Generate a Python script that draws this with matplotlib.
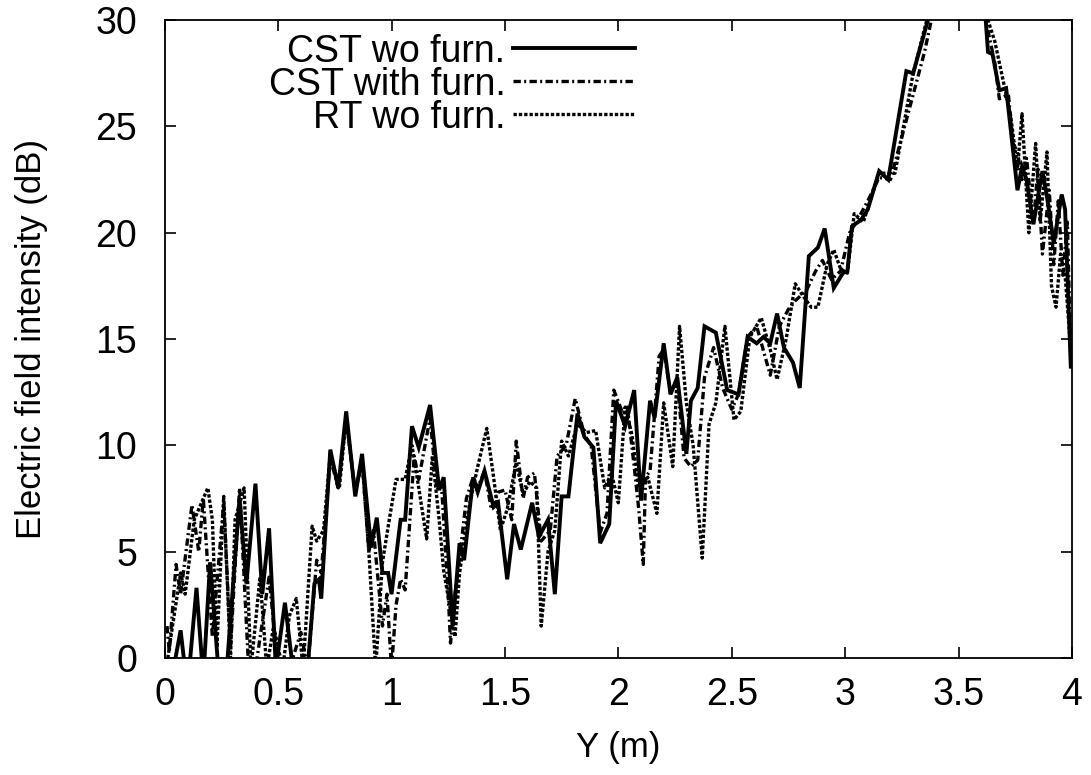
import matplotlib

matplotlib.use("Agg")
import matplotlib.pyplot as plt
from matplotlib.ticker import FuncFormatter

plt.rcParams["font.family"] = ["Liberation Sans", "DejaVu Sans"]

# CST without furniture (solid)
cst_wo_x = [0.03, 0.07, 0.10, 0.14, 0.17, 0.20, 0.24, 0.27, 0.33, 0.36, 0.40, 0.43,
            0.46, 0.49, 0.53, 0.565, 0.63, 0.66, 0.68, 0.69, 0.73, 0.765, 0.80, 0.84,
            0.87, 0.91, 0.935, 0.96, 0.985, 1.00, 1.04, 1.06, 1.09, 1.12, 1.17, 1.21,
            1.23, 1.27, 1.30, 1.32, 1.36, 1.38, 1.41, 1.45, 1.47, 1.51, 1.54, 1.57,
            1.62, 1.65, 1.69, 1.72, 1.75, 1.78, 1.82, 1.85, 1.89, 1.92, 1.96, 1.99,
            2.03, 2.07, 2.10, 2.14, 2.16, 2.20, 2.23, 2.26, 2.30, 2.32, 2.35, 2.38,
            2.43, 2.48, 2.53, 2.57, 2.61, 2.64, 2.67, 2.70, 2.73, 2.77, 2.80, 2.84,
            2.88, 2.91, 2.95, 2.99, 3.01, 3.03, 3.07, 3.10, 3.15, 3.19, 3.27, 3.30,
            3.365, 3.45, 3.55, 3.62, 3.63, 3.65, 3.68, 3.71, 3.76, 3.78, 3.80, 3.83,
            3.87, 3.89, 3.92, 3.955, 3.97, 3.995]
cst_wo_y = [-1.0, 1.3, -1.5, 3.3, -1.0, 4.5, -1.0, -1.0, 7.5, 3.5, 8.2, 3.0,
            6.1, -0.5, 2.6, -0.5, -0.5, 3.5, 3.7, 2.8, 9.8, 8.0, 11.6, 7.6,
            9.6, 5.2, 6.6, 4.0, 4.0, 3.0, 6.5, 6.5, 10.9, 9.9, 11.9, 7.9,
            8.5, 1.5, 5.4, 4.6, 8.5, 7.8, 8.8, 7.1, 7.3, 3.7, 6.3, 5.1,
            7.3, 5.7, 6.5, 3.0, 7.6, 7.6, 11.5, 10.4, 9.9, 5.4, 6.3, 12.1,
            10.9, 12.6, 7.4, 12.1, 11.3, 14.8, 12.4, 13.2, 9.6, 12.1, 12.7, 15.6,
            15.3, 12.6, 12.4, 15.1, 14.8, 15.1, 14.8, 16.2, 14.6, 13.9, 12.7, 18.9,
            19.3, 20.2, 17.4, 18.1, 18.2, 20.3, 20.6, 21.1, 22.9, 22.5, 27.6, 27.5,
            30.0, 33.0, 33.0, 30.0, 28.5, 28.4, 26.7, 26.8, 22.0, 23.1, 22.5, 20.4,
            22.9, 21.7, 19.5, 21.8, 21.1, 13.7]

# CST with furniture (dash-dot)
cst_with_x = [0.01, 0.02, 0.05, 0.07, 0.12, 0.15, 0.17, 0.21, 0.26, 0.29, 0.33, 0.37,
              0.40, 0.46, 0.50, 0.55, 0.60, 0.63, 0.67, 0.69, 0.73, 0.765, 0.80, 0.84,
              0.87, 0.90, 0.92, 0.96, 0.98, 1.00, 1.02, 1.04, 1.06, 1.10, 1.12, 1.17,
              1.20, 1.22, 1.25, 1.26, 1.28, 1.30, 1.33, 1.36, 1.38, 1.41, 1.44, 1.47,
              1.50, 1.53, 1.55, 1.58, 1.60, 1.63, 1.66, 1.70, 1.73, 1.77, 1.81, 1.85,
              1.88, 1.92, 1.95, 1.98, 2.02, 2.04, 2.07, 2.09, 2.11, 2.12, 2.14, 2.18,
              2.20, 2.23, 2.26, 2.29, 2.32, 2.35, 2.38, 2.42, 2.46, 2.50, 2.53, 2.57,
              2.61, 2.67, 2.71, 2.75, 2.78, 2.83, 2.87, 2.90, 2.94, 2.98, 3.02, 3.06,
              3.10, 3.15, 3.20, 3.30, 3.35, 3.38, 3.45, 3.55, 3.62, 3.66, 3.68, 3.72,
              3.74, 3.76, 3.78, 3.80, 3.83, 3.85, 3.87, 3.90, 3.92, 3.94, 3.96, 3.98,
              3.995]
cst_with_y = [1.5, 0.3, 4.4, 3.0, 7.2, 5.0, 7.5, 1.0, 7.3, 0.5, 8.0, -0.5,
              -0.5, 3.8, -0.5, -0.5, 1.2, -0.5, 4.6, 4.0, 9.4, 8.0, 11.2, 7.8,
              9.3, 5.0, 6.0, 1.5, 3.0, -0.5, 2.5, 3.7, 3.2, 9.5, 8.4, 11.3,
              7.9, 8.2, 3.0, 0.7, 3.0, 4.7, 7.5, 8.5, 8.0, 8.8, 7.0, 7.8,
              7.9, 6.5, 10.2, 7.5, 8.5, 8.7, 5.5, 6.0, 9.5, 10.0, 12.2, 10.5,
              10.0, 5.9, 6.8, 12.6, 11.5, 11.8, 9.0, 7.0, 4.4, 8.5, 8.8, 14.2,
              14.5, 12.5, 13.0, 9.4, 9.0, 9.3, 13.2, 14.6, 12.7, 11.7, 12.4, 15.1,
              15.6, 13.3, 15.6, 16.4, 16.8, 17.3, 18.2, 18.7, 17.8, 18.2, 20.0, 20.7,
              21.5, 22.6, 22.5, 26.5, 28.5, 30.0, 33.0, 33.0, 30.0, 28.0, 26.3, 26.5,
              24.2, 23.8, 22.5, 23.5, 20.4, 23.0, 19.0, 22.0, 18.5, 21.5, 18.0, 20.5,
              14.0]

# Ray tracing without furniture (dotted)
rt_wo_x = [0.00, 0.03, 0.07, 0.09, 0.13, 0.19, 0.21, 0.23, 0.26, 0.29, 0.31, 0.35,
           0.38, 0.42, 0.45, 0.48, 0.52, 0.55, 0.58, 0.61, 0.65, 0.67, 0.70, 0.73,
           0.77, 0.80, 0.84, 0.87, 0.90, 0.93, 0.96, 0.99, 1.02, 1.06, 1.09, 1.12,
           1.155, 1.18, 1.21, 1.23, 1.28, 1.30, 1.34, 1.38, 1.42, 1.45, 1.48, 1.51,
           1.55, 1.58, 1.61, 1.64, 1.66, 1.69, 1.72, 1.75, 1.78, 1.82, 1.86, 1.90,
           1.94, 1.97, 2.00, 2.03, 2.06, 2.09, 2.13, 2.17, 2.20, 2.24, 2.27, 2.30,
           2.33, 2.37, 2.40, 2.43, 2.47, 2.51, 2.54, 2.58, 2.63, 2.67, 2.70, 2.74,
           2.78, 2.81, 2.85, 2.88, 2.92, 2.95, 2.98, 3.01, 3.04, 3.08, 3.15, 3.22,
           3.30, 3.36, 3.45, 3.55, 3.63, 3.66, 3.70, 3.73, 3.76, 3.78, 3.81, 3.84,
           3.86, 3.89, 3.91, 3.93, 3.95, 3.97, 3.995]
rt_wo_y = [-1.0, 1.2, 4.0, 3.0, 6.5, 8.0, 6.5, 0.5, 7.6, 0.0, 6.5, 8.0,
           -0.5, 3.8, -0.5, 1.5, -0.5, 2.0, 2.8, -0.5, 6.2, 5.5, 6.0, 9.6,
           8.0, 11.3, 7.8, 9.3, 5.0, -0.5, 4.5, 6.5, 8.4, 8.4, 10.0, 8.0,
           5.6, 9.5, 6.5, 4.1, 1.0, 4.0, 7.0, 9.0, 10.8, 8.5, 6.0, 7.0,
           9.2, 7.7, 8.3, 8.0, 1.5, 5.0, 6.0, 10.2, 9.5, 11.0, 10.6, 10.7,
           8.0, 8.7, 7.3, 11.8, 10.5, 8.0, 8.5, 6.8, 12.0, 9.0, 15.6, 12.0,
           10.0, 4.7, 11.0, 12.0, 15.6, 11.2, 11.6, 15.1, 16.0, 14.5, 13.1, 15.0,
           17.6, 17.1, 16.5, 16.5, 18.5, 19.2, 18.3, 18.1, 20.9, 20.5, 22.8, 22.8,
           27.5, 30.0, 33.0, 33.0, 30.0, 29.0, 27.0, 25.5, 23.0, 25.6, 20.0, 24.2,
           20.5, 23.8, 17.5, 16.5, 19.0, 18.0, 14.5]

labels = ["CST wo furn.", "CST with furn.", "RT wo furn."]


def main():
    fig = plt.figure(figsize=(10.91, 7.75), dpi=100)
    ax = fig.add_axes([0.151, 0.151, 0.8315, 0.823])

    ax.plot(cst_wo_x, cst_wo_y, "-", color="black", lw=2.8, label=labels[0],
            solid_joinstyle="miter")
    ax.plot(cst_with_x, cst_with_y, color="black", lw=2.4, label=labels[1],
            linestyle=(0, (2.2, 1.0, 0.6, 1.0)))
    ax.plot(rt_wo_x, rt_wo_y, color="black", lw=2.4, label=labels[2],
            linestyle=(0, (1.0, 0.6)))

    ax.set_xlim(0, 4)
    ax.set_ylim(0, 30)
    ax.set_xticks([0, 0.5, 1, 1.5, 2, 2.5, 3, 3.5, 4])
    ax.set_yticks([0, 5, 10, 15, 20, 25, 30])
    ax.xaxis.set_major_formatter(FuncFormatter(lambda v, p: f"{v:g}"))
    ax.tick_params(direction="in", length=8, width=1.2, labelsize=27,
                   top=True, right=True)
    ax.tick_params(axis="y", pad=20)
    ax.tick_params(axis="x", pad=14)
    for sp in ax.spines.values():
        sp.set_linewidth(1.3)

    ax.set_xlabel("Y (m)", fontsize=25, labelpad=13)
    ax.set_ylabel("Electric field intensity (dB)", fontsize=25, labelpad=34)

    ax.legend(loc="upper right", bbox_to_anchor=(0.518, 0.979), frameon=False,
              markerfirst=False, fontsize=27, handlelength=3.25, handletextpad=0.2,
              labelspacing=-0.08, borderaxespad=0.0, borderpad=0.0)

    fig.savefig("out.png", dpi=100)


if __name__ == "__main__":
    main()
